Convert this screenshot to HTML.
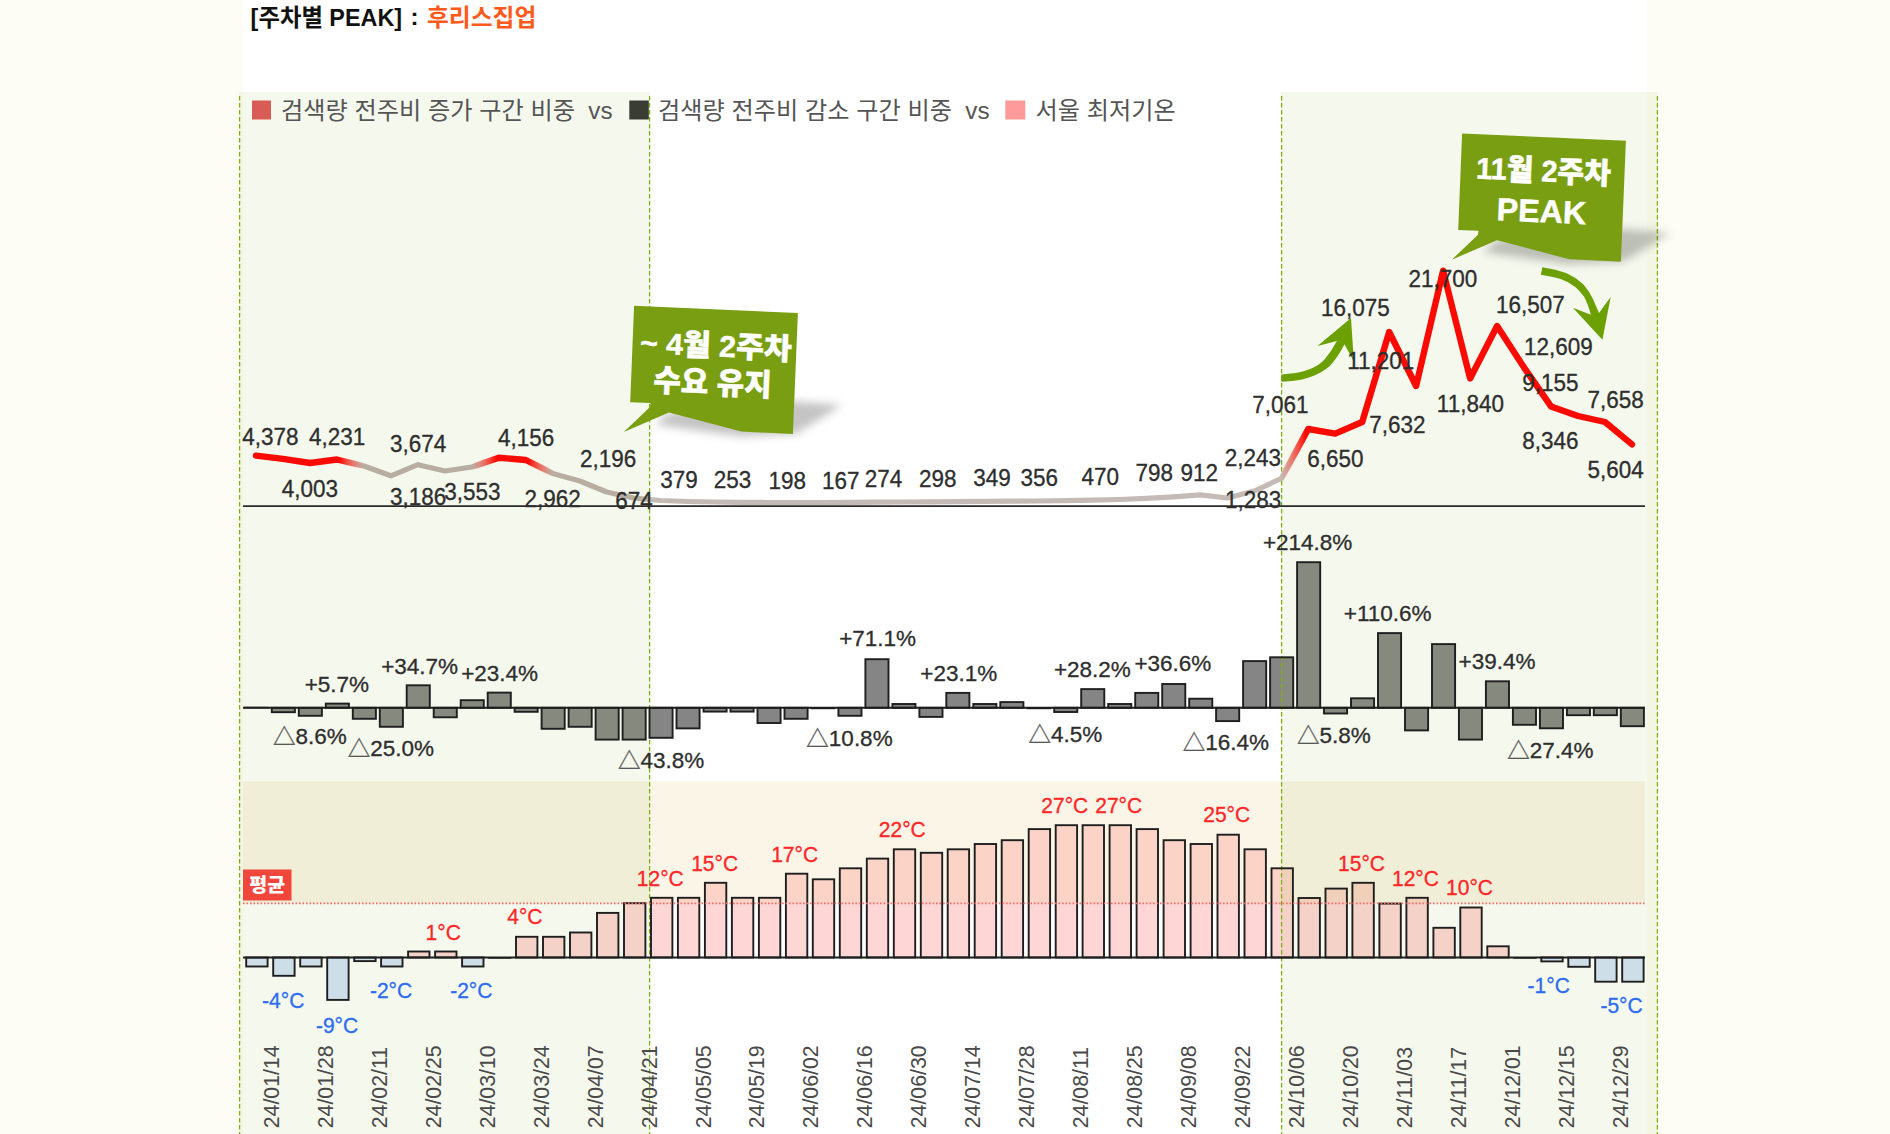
<!DOCTYPE html>
<html lang="ko"><head><meta charset="utf-8"><title>주차별 PEAK : 후리스집업</title>
<style>
html,body{margin:0;padding:0;background:#FEFDF5;}
#page{position:relative;width:1890px;height:1134px;overflow:hidden;background:#FEFDF5;}
</style></head><body><div id="page">
<svg width="1890" height="1134" viewBox="0 0 1890 1134" style="position:absolute;left:0;top:0">
<defs>
<linearGradient id="lgG" gradientUnits="userSpaceOnUse" x1="0" y1="0" x2="1890" y2="0"><stop offset="0.00000" stop-color="#B7AEA1" stop-opacity="0"/><stop offset="0.17970" stop-color="#B7AEA1" stop-opacity="0"/><stop offset="0.19255" stop-color="#B7AEA1" stop-opacity="1"/><stop offset="0.24965" stop-color="#B7AEA1" stop-opacity="1"/><stop offset="0.26250" stop-color="#B7AEA1" stop-opacity="0"/><stop offset="0.27963" stop-color="#B7AEA1" stop-opacity="0"/><stop offset="0.29248" stop-color="#B7AEA1" stop-opacity="1"/><stop offset="0.34365" stop-color="#B7AEA1" stop-opacity="1"/><stop offset="0.34418" stop-color="#C4BAB6" stop-opacity="1"/><stop offset="0.67790" stop-color="#C4BAB6" stop-opacity="1"/><stop offset="0.69075" stop-color="#B7AEA1" stop-opacity="0"/><stop offset="1.00000" stop-color="#B7AEA1" stop-opacity="0"/></linearGradient><linearGradient id="lgR" gradientUnits="userSpaceOnUse" x1="0" y1="0" x2="1890" y2="0"><stop offset="0.00000" stop-color="#FA0A00" stop-opacity="1"/><stop offset="0.17970" stop-color="#FA0A00" stop-opacity="1"/><stop offset="0.19255" stop-color="#FA0A00" stop-opacity="0"/><stop offset="0.24965" stop-color="#FA0A00" stop-opacity="0"/><stop offset="0.26250" stop-color="#FA0A00" stop-opacity="1"/><stop offset="0.27963" stop-color="#FA0A00" stop-opacity="1"/><stop offset="0.29248" stop-color="#FA0A00" stop-opacity="0"/><stop offset="0.34365" stop-color="#FA0A00" stop-opacity="0"/><stop offset="0.34418" stop-color="#FA0A00" stop-opacity="0"/><stop offset="0.67790" stop-color="#FA0A00" stop-opacity="0"/><stop offset="0.69075" stop-color="#FA0A00" stop-opacity="1"/><stop offset="1.00000" stop-color="#FA0A00" stop-opacity="1"/></linearGradient>
<filter id="blur6" x="-30%" y="-30%" width="160%" height="160%"><feGaussianBlur stdDeviation="4"/></filter>
</defs>
<rect x="243" y="0" width="1404" height="1134" fill="#ffffff"/>
<rect x="246.2" y="957.5" width="21.4" height="9.0" fill="#D4E3FA"/>
<rect x="273.2" y="957.5" width="21.4" height="18.3" fill="#D4E3FA"/>
<rect x="300.2" y="957.5" width="21.4" height="9.0" fill="#D4E3FA"/>
<rect x="327.2" y="957.5" width="21.4" height="42.4" fill="#D4E3FA"/>
<rect x="354.2" y="957.5" width="21.4" height="3.6" fill="#D4E3FA"/>
<rect x="381.1" y="957.5" width="21.4" height="9.0" fill="#D4E3FA"/>
<rect x="408.1" y="951.5" width="21.4" height="6.0" fill="#FFD6D6"/>
<rect x="435.1" y="951.5" width="21.4" height="6.0" fill="#FFD6D6"/>
<rect x="462.1" y="957.5" width="21.4" height="9.0" fill="#D4E3FA"/>
<rect x="516.0" y="936.8" width="21.4" height="20.7" fill="#FFD6D6"/>
<rect x="543.0" y="936.8" width="21.4" height="20.7" fill="#FFD6D6"/>
<rect x="570.0" y="932.5" width="21.4" height="25.0" fill="#FFD6D6"/>
<rect x="597.0" y="912.9" width="21.4" height="44.6" fill="#FFD6D6"/>
<rect x="624.0" y="903.2" width="21.4" height="54.3" fill="#FFD6D6"/>
<rect x="651.0" y="897.8" width="21.4" height="59.7" fill="#FFD6D6"/>
<rect x="677.9" y="897.8" width="21.4" height="59.7" fill="#FFD6D6"/>
<rect x="704.9" y="882.8" width="21.4" height="74.7" fill="#FFD6D6"/>
<rect x="731.9" y="897.8" width="21.4" height="59.7" fill="#FFD6D6"/>
<rect x="758.9" y="897.8" width="21.4" height="59.7" fill="#FFD6D6"/>
<rect x="785.9" y="873.7" width="21.4" height="83.8" fill="#FFD6D6"/>
<rect x="812.8" y="879.3" width="21.4" height="78.2" fill="#FFD6D6"/>
<rect x="839.8" y="868.3" width="21.4" height="89.2" fill="#FFD6D6"/>
<rect x="866.8" y="858.6" width="21.4" height="98.9" fill="#FFD6D6"/>
<rect x="893.8" y="849.3" width="21.4" height="108.2" fill="#FFD6D6"/>
<rect x="920.8" y="852.8" width="21.4" height="104.7" fill="#FFD6D6"/>
<rect x="947.7" y="849.3" width="21.4" height="108.2" fill="#FFD6D6"/>
<rect x="974.7" y="844.0" width="21.4" height="113.5" fill="#FFD6D6"/>
<rect x="1001.7" y="840.2" width="21.4" height="117.3" fill="#FFD6D6"/>
<rect x="1028.7" y="829.1" width="21.4" height="128.4" fill="#FFD6D6"/>
<rect x="1055.7" y="825.2" width="21.4" height="132.3" fill="#FFD6D6"/>
<rect x="1082.6" y="825.2" width="21.4" height="132.3" fill="#FFD6D6"/>
<rect x="1109.6" y="825.2" width="21.4" height="132.3" fill="#FFD6D6"/>
<rect x="1136.6" y="829.1" width="21.4" height="128.4" fill="#FFD6D6"/>
<rect x="1163.6" y="840.2" width="21.4" height="117.3" fill="#FFD6D6"/>
<rect x="1190.6" y="844.0" width="21.4" height="113.5" fill="#FFD6D6"/>
<rect x="1217.5" y="834.7" width="21.4" height="122.8" fill="#FFD6D6"/>
<rect x="1244.5" y="849.3" width="21.4" height="108.2" fill="#FFD6D6"/>
<rect x="1271.5" y="868.3" width="21.4" height="89.2" fill="#FFD6D6"/>
<rect x="1298.5" y="898.0" width="21.4" height="59.5" fill="#FFD6D6"/>
<rect x="1325.5" y="888.6" width="21.4" height="68.9" fill="#FFD6D6"/>
<rect x="1352.4" y="882.8" width="21.4" height="74.7" fill="#FFD6D6"/>
<rect x="1379.4" y="903.6" width="21.4" height="53.9" fill="#FFD6D6"/>
<rect x="1406.4" y="897.8" width="21.4" height="59.7" fill="#FFD6D6"/>
<rect x="1433.4" y="927.8" width="21.4" height="29.7" fill="#FFD6D6"/>
<rect x="1460.3" y="907.5" width="21.4" height="50.0" fill="#FFD6D6"/>
<rect x="1487.3" y="946.3" width="21.4" height="11.2" fill="#FFD6D6"/>
<rect x="1541.3" y="957.5" width="21.4" height="3.9" fill="#D4E3FA"/>
<rect x="1568.3" y="957.5" width="21.4" height="9.3" fill="#D4E3FA"/>
<rect x="1595.2" y="957.5" width="21.4" height="24.2" fill="#D4E3FA"/>
<rect x="1622.2" y="957.5" width="21.4" height="24.2" fill="#D4E3FA"/>
<rect x="271.8" y="707.8" width="23.1" height="4.4" fill="#858585"/>
<rect x="298.8" y="707.8" width="23.1" height="8.0" fill="#858585"/>
<rect x="325.8" y="703.6" width="23.1" height="4.2" fill="#858585"/>
<rect x="352.8" y="707.8" width="23.1" height="11.0" fill="#858585"/>
<rect x="379.8" y="707.8" width="23.1" height="19.0" fill="#858585"/>
<rect x="406.7" y="685.3" width="23.1" height="22.5" fill="#858585"/>
<rect x="433.7" y="707.8" width="23.1" height="9.5" fill="#858585"/>
<rect x="460.7" y="700.2" width="23.1" height="7.6" fill="#858585"/>
<rect x="487.7" y="692.6" width="23.1" height="15.2" fill="#858585"/>
<rect x="514.6" y="707.8" width="23.1" height="4.0" fill="#858585"/>
<rect x="541.6" y="707.8" width="23.1" height="21.0" fill="#858585"/>
<rect x="568.6" y="707.8" width="23.1" height="19.0" fill="#858585"/>
<rect x="595.6" y="707.8" width="23.1" height="31.8" fill="#858585"/>
<rect x="622.6" y="707.8" width="23.1" height="31.8" fill="#858585"/>
<rect x="649.5" y="707.8" width="23.1" height="30.0" fill="#858585"/>
<rect x="676.5" y="707.8" width="23.1" height="20.6" fill="#858585"/>
<rect x="703.5" y="707.8" width="23.1" height="3.8" fill="#858585"/>
<rect x="730.5" y="707.8" width="23.1" height="3.8" fill="#858585"/>
<rect x="757.5" y="707.8" width="23.1" height="15.2" fill="#858585"/>
<rect x="784.5" y="707.8" width="23.1" height="11.0" fill="#858585"/>
<rect x="838.4" y="707.8" width="23.1" height="8.0" fill="#858585"/>
<rect x="865.4" y="659.2" width="23.1" height="48.6" fill="#858585"/>
<rect x="892.4" y="704.0" width="23.1" height="3.8" fill="#858585"/>
<rect x="919.4" y="707.8" width="23.1" height="9.1" fill="#858585"/>
<rect x="946.3" y="692.9" width="23.1" height="14.9" fill="#858585"/>
<rect x="973.3" y="704.0" width="23.1" height="3.8" fill="#858585"/>
<rect x="1000.3" y="702.1" width="23.1" height="5.7" fill="#858585"/>
<rect x="1054.2" y="707.8" width="23.1" height="4.2" fill="#858585"/>
<rect x="1081.2" y="689.1" width="23.1" height="18.7" fill="#858585"/>
<rect x="1108.2" y="704.0" width="23.1" height="3.8" fill="#858585"/>
<rect x="1135.2" y="692.9" width="23.1" height="14.9" fill="#858585"/>
<rect x="1162.2" y="684.0" width="23.1" height="23.8" fill="#858585"/>
<rect x="1189.2" y="698.7" width="23.1" height="9.1" fill="#858585"/>
<rect x="1216.1" y="707.8" width="23.1" height="13.3" fill="#858585"/>
<rect x="1243.1" y="661.1" width="23.1" height="46.7" fill="#858585"/>
<rect x="1270.1" y="657.3" width="23.1" height="50.5" fill="#858585"/>
<rect x="1297.1" y="562.2" width="23.1" height="145.6" fill="#858585"/>
<rect x="1324.0" y="707.8" width="23.1" height="5.7" fill="#858585"/>
<rect x="1351.0" y="698.3" width="23.1" height="9.5" fill="#858585"/>
<rect x="1378.0" y="633.1" width="23.1" height="74.7" fill="#858585"/>
<rect x="1405.0" y="707.8" width="23.1" height="22.6" fill="#858585"/>
<rect x="1432.0" y="644.1" width="23.1" height="63.7" fill="#858585"/>
<rect x="1458.9" y="707.8" width="23.1" height="31.8" fill="#858585"/>
<rect x="1485.9" y="681.3" width="23.1" height="26.5" fill="#858585"/>
<rect x="1512.9" y="707.8" width="23.1" height="17.0" fill="#858585"/>
<rect x="1539.9" y="707.8" width="23.1" height="20.5" fill="#858585"/>
<rect x="1566.9" y="707.8" width="23.1" height="7.4" fill="#858585"/>
<rect x="1593.8" y="707.8" width="23.1" height="7.4" fill="#858585"/>
<rect x="1620.8" y="707.8" width="23.1" height="18.4" fill="#858585"/>
<rect x="243" y="781.4" width="1402" height="122" fill="rgb(235,205,140)" fill-opacity="0.2"/>
<rect x="239" y="92" width="411" height="1042" fill="rgb(146,180,60)" fill-opacity="0.09"/>
<rect x="1281" y="92" width="376.5" height="1042" fill="rgb(146,180,60)" fill-opacity="0.09"/>
<line x1="239.6" y1="96" x2="239.6" y2="1134" stroke="#7FAE10" stroke-width="1.3" stroke-dasharray="4.4 2.6"/>
<line x1="649.6" y1="96" x2="649.6" y2="1134" stroke="#7FAE10" stroke-width="1.3" stroke-dasharray="4.4 2.6"/>
<line x1="1281.6" y1="96" x2="1281.6" y2="1134" stroke="#7FAE10" stroke-width="1.3" stroke-dasharray="4.4 2.6"/>
<line x1="1657.4" y1="96" x2="1657.4" y2="1134" stroke="#7FAE10" stroke-width="1.3" stroke-dasharray="4.4 2.6"/>
<g fill="none" stroke="#1e1e1e" stroke-width="1.9">
<rect x="246.2" y="957.5" width="21.4" height="9.0"/>
<rect x="273.2" y="957.5" width="21.4" height="18.3"/>
<rect x="300.2" y="957.5" width="21.4" height="9.0"/>
<rect x="327.2" y="957.5" width="21.4" height="42.4"/>
<rect x="354.2" y="957.5" width="21.4" height="3.6"/>
<rect x="381.1" y="957.5" width="21.4" height="9.0"/>
<rect x="408.1" y="951.5" width="21.4" height="6.0"/>
<rect x="435.1" y="951.5" width="21.4" height="6.0"/>
<rect x="462.1" y="957.5" width="21.4" height="9.0"/>
<rect x="488.2" y="957.3" width="23.2" height="1.4" fill="#1c1c1c" stroke="none"/>
<rect x="516.0" y="936.8" width="21.4" height="20.7"/>
<rect x="543.0" y="936.8" width="21.4" height="20.7"/>
<rect x="570.0" y="932.5" width="21.4" height="25.0"/>
<rect x="597.0" y="912.9" width="21.4" height="44.6"/>
<rect x="624.0" y="903.2" width="21.4" height="54.3"/>
<rect x="651.0" y="897.8" width="21.4" height="59.7"/>
<rect x="677.9" y="897.8" width="21.4" height="59.7"/>
<rect x="704.9" y="882.8" width="21.4" height="74.7"/>
<rect x="731.9" y="897.8" width="21.4" height="59.7"/>
<rect x="758.9" y="897.8" width="21.4" height="59.7"/>
<rect x="785.9" y="873.7" width="21.4" height="83.8"/>
<rect x="812.8" y="879.3" width="21.4" height="78.2"/>
<rect x="839.8" y="868.3" width="21.4" height="89.2"/>
<rect x="866.8" y="858.6" width="21.4" height="98.9"/>
<rect x="893.8" y="849.3" width="21.4" height="108.2"/>
<rect x="920.8" y="852.8" width="21.4" height="104.7"/>
<rect x="947.7" y="849.3" width="21.4" height="108.2"/>
<rect x="974.7" y="844.0" width="21.4" height="113.5"/>
<rect x="1001.7" y="840.2" width="21.4" height="117.3"/>
<rect x="1028.7" y="829.1" width="21.4" height="128.4"/>
<rect x="1055.7" y="825.2" width="21.4" height="132.3"/>
<rect x="1082.6" y="825.2" width="21.4" height="132.3"/>
<rect x="1109.6" y="825.2" width="21.4" height="132.3"/>
<rect x="1136.6" y="829.1" width="21.4" height="128.4"/>
<rect x="1163.6" y="840.2" width="21.4" height="117.3"/>
<rect x="1190.6" y="844.0" width="21.4" height="113.5"/>
<rect x="1217.5" y="834.7" width="21.4" height="122.8"/>
<rect x="1244.5" y="849.3" width="21.4" height="108.2"/>
<rect x="1271.5" y="868.3" width="21.4" height="89.2"/>
<rect x="1298.5" y="898.0" width="21.4" height="59.5"/>
<rect x="1325.5" y="888.6" width="21.4" height="68.9"/>
<rect x="1352.4" y="882.8" width="21.4" height="74.7"/>
<rect x="1379.4" y="903.6" width="21.4" height="53.9"/>
<rect x="1406.4" y="897.8" width="21.4" height="59.7"/>
<rect x="1433.4" y="927.8" width="21.4" height="29.7"/>
<rect x="1460.3" y="907.5" width="21.4" height="50.0"/>
<rect x="1487.3" y="946.3" width="21.4" height="11.2"/>
<rect x="1513.4" y="957.3" width="23.2" height="1.4" fill="#1c1c1c" stroke="none"/>
<rect x="1541.3" y="957.5" width="21.4" height="3.9"/>
<rect x="1568.3" y="957.5" width="21.4" height="9.3"/>
<rect x="1595.2" y="957.5" width="21.4" height="24.2"/>
<rect x="1622.2" y="957.5" width="21.4" height="24.2"/>
<rect x="243.9" y="706.8" width="24.9" height="1.6" fill="#1c1c1c" stroke="none"/>
<rect x="271.8" y="707.8" width="23.1" height="4.4"/>
<rect x="298.8" y="707.8" width="23.1" height="8.0"/>
<rect x="325.8" y="703.6" width="23.1" height="4.2"/>
<rect x="352.8" y="707.8" width="23.1" height="11.0"/>
<rect x="379.8" y="707.8" width="23.1" height="19.0"/>
<rect x="406.7" y="685.3" width="23.1" height="22.5"/>
<rect x="433.7" y="707.8" width="23.1" height="9.5"/>
<rect x="460.7" y="700.2" width="23.1" height="7.6"/>
<rect x="487.7" y="692.6" width="23.1" height="15.2"/>
<rect x="514.6" y="707.8" width="23.1" height="4.0"/>
<rect x="541.6" y="707.8" width="23.1" height="21.0"/>
<rect x="568.6" y="707.8" width="23.1" height="19.0"/>
<rect x="595.6" y="707.8" width="23.1" height="31.8"/>
<rect x="622.6" y="707.8" width="23.1" height="31.8"/>
<rect x="649.5" y="707.8" width="23.1" height="30.0"/>
<rect x="676.5" y="707.8" width="23.1" height="20.6"/>
<rect x="703.5" y="707.8" width="23.1" height="3.8"/>
<rect x="730.5" y="707.8" width="23.1" height="3.8"/>
<rect x="757.5" y="707.8" width="23.1" height="15.2"/>
<rect x="784.5" y="707.8" width="23.1" height="11.0"/>
<rect x="810.5" y="707.6" width="24.9" height="1.6" fill="#1c1c1c" stroke="none"/>
<rect x="838.4" y="707.8" width="23.1" height="8.0"/>
<rect x="865.4" y="659.2" width="23.1" height="48.6"/>
<rect x="892.4" y="704.0" width="23.1" height="3.8"/>
<rect x="919.4" y="707.8" width="23.1" height="9.1"/>
<rect x="946.3" y="692.9" width="23.1" height="14.9"/>
<rect x="973.3" y="704.0" width="23.1" height="3.8"/>
<rect x="1000.3" y="702.1" width="23.1" height="5.7"/>
<rect x="1026.4" y="707.6" width="24.9" height="1.6" fill="#1c1c1c" stroke="none"/>
<rect x="1054.2" y="707.8" width="23.1" height="4.2"/>
<rect x="1081.2" y="689.1" width="23.1" height="18.7"/>
<rect x="1108.2" y="704.0" width="23.1" height="3.8"/>
<rect x="1135.2" y="692.9" width="23.1" height="14.9"/>
<rect x="1162.2" y="684.0" width="23.1" height="23.8"/>
<rect x="1189.2" y="698.7" width="23.1" height="9.1"/>
<rect x="1216.1" y="707.8" width="23.1" height="13.3"/>
<rect x="1243.1" y="661.1" width="23.1" height="46.7"/>
<rect x="1270.1" y="657.3" width="23.1" height="50.5"/>
<rect x="1297.1" y="562.2" width="23.1" height="145.6"/>
<rect x="1324.0" y="707.8" width="23.1" height="5.7"/>
<rect x="1351.0" y="698.3" width="23.1" height="9.5"/>
<rect x="1378.0" y="633.1" width="23.1" height="74.7"/>
<rect x="1405.0" y="707.8" width="23.1" height="22.6"/>
<rect x="1432.0" y="644.1" width="23.1" height="63.7"/>
<rect x="1458.9" y="707.8" width="23.1" height="31.8"/>
<rect x="1485.9" y="681.3" width="23.1" height="26.5"/>
<rect x="1512.9" y="707.8" width="23.1" height="17.0"/>
<rect x="1539.9" y="707.8" width="23.1" height="20.5"/>
<rect x="1566.9" y="707.8" width="23.1" height="7.4"/>
<rect x="1593.8" y="707.8" width="23.1" height="7.4"/>
<rect x="1620.8" y="707.8" width="23.1" height="18.4"/>
</g>
<line x1="243" y1="957.5" x2="1645" y2="957.5" stroke="#1e1e1e" stroke-width="1.9"/>
<line x1="243" y1="707.8" x2="1645" y2="707.8" stroke="#1e1e1e" stroke-width="1.9"/>
<line x1="243" y1="903.4" x2="1645" y2="903.4" stroke="#F26B6B" stroke-width="1.6" stroke-dasharray="1.6 1.9"/>
<rect x="243" y="869.5" width="48.5" height="31" fill="#F0463C"/>
<text x="267.2" y="892" font-family="'Liberation Sans','Noto Sans CJK KR','NanumGothic',sans-serif" font-size="19" font-weight="900" fill="#fff" text-anchor="middle" textLength="36" lengthAdjust="spacingAndGlyphs">평균</text>
<line x1="243" y1="506.2" x2="1645" y2="506.2" stroke="#2a2a2a" stroke-width="1.8"/>
<polyline fill="none" stroke="url(#lgG)" stroke-width="5.2" stroke-linejoin="round" stroke-linecap="round" points="256.0,455.6 283.0,458.9 310.0,463.0 336.9,459.5 363.9,466.0 390.9,475.8 417.9,464.7 444.9,471.0 471.8,467.0 498.8,457.7 525.8,460.0 552.8,473.4 579.8,481.0 606.7,492.0 633.7,498.0 660.7,500.5 687.7,501.5 714.7,502.0 741.6,502.3 768.6,502.5 795.6,502.5 822.6,502.5 849.6,502.3 876.5,502.2 903.5,502.0 930.5,501.8 957.5,501.6 984.5,501.4 1011.4,501.2 1038.4,501.0 1065.4,500.6 1092.4,500.2 1119.4,499.5 1146.3,498.3 1173.3,496.8 1200.3,494.8 1227.3,498.0 1254.3,491.0 1281.2,478.5 1308.2,429.0 1335.2,433.6 1362.2,422.0 1389.2,332.0 1416.1,386.0 1443.1,270.7 1470.1,378.5 1497.1,326.0 1524.1,367.6 1551.0,406.4 1578.0,416.0 1605.0,422.0 1632.0,444.4"/>
<polyline fill="none" stroke="url(#lgR)" stroke-width="6.4" stroke-linejoin="round" stroke-linecap="round" points="256.0,455.6 283.0,458.9 310.0,463.0 336.9,459.5 363.9,466.0 390.9,475.8 417.9,464.7 444.9,471.0 471.8,467.0 498.8,457.7 525.8,460.0 552.8,473.4 579.8,481.0 606.7,492.0 633.7,498.0 660.7,500.5 687.7,501.5 714.7,502.0 741.6,502.3 768.6,502.5 795.6,502.5 822.6,502.5 849.6,502.3 876.5,502.2 903.5,502.0 930.5,501.8 957.5,501.6 984.5,501.4 1011.4,501.2 1038.4,501.0 1065.4,500.6 1092.4,500.2 1119.4,499.5 1146.3,498.3 1173.3,496.8 1200.3,494.8 1227.3,498.0 1254.3,491.0 1281.2,478.5 1308.2,429.0 1335.2,433.6 1362.2,422.0 1389.2,332.0 1416.1,386.0 1443.1,270.7 1470.1,378.5 1497.1,326.0 1524.1,367.6 1551.0,406.4 1578.0,416.0 1605.0,422.0 1632.0,444.4"/>
<path fill="#6BA000" d="M1281.4,374.4 Q1312,373 1324.3,359.8 Q1331,352 1336.9,340.9 L1317.5,346.1 L1351,318.1 L1353.9,361.8 L1344.5,344.3 Q1338,357 1330.1,365.7 Q1313,381 1281.4,381.7 Z"/>
<path fill="#6BA000" d="M1542.3,267.3 Q1556,269.5 1566.6,273.3 Q1576,277.5 1583,283.9 Q1589,290.5 1592.7,298.5 L1599,313 L1610.7,297 L1602.4,339.7 L1572.9,307.7 L1590.8,314.8 Q1588,304 1584,296.6 Q1580,291 1575.3,286.9 Q1569,282 1560.7,279.1 Q1552,276.5 1540.9,274.7 Z"/>
<g font-family="'Liberation Sans','Noto Sans CJK KR',sans-serif">
<text transform="translate(270.5,444.6) scale(1,1.05)" text-anchor="middle" font-size="22.5" fill="#2e2e2e" stroke="#2e2e2e" stroke-width="0.3">4,378</text>
<text transform="translate(337.2,444.6) scale(1,1.05)" text-anchor="middle" font-size="22.5" fill="#2e2e2e" stroke="#2e2e2e" stroke-width="0.3">4,231</text>
<text transform="translate(418.1,451.5) scale(1,1.05)" text-anchor="middle" font-size="22.5" fill="#2e2e2e" stroke="#2e2e2e" stroke-width="0.3">3,674</text>
<text transform="translate(309.9,496.9) scale(1,1.05)" text-anchor="middle" font-size="22.5" fill="#2e2e2e" stroke="#2e2e2e" stroke-width="0.3">4,003</text>
<text transform="translate(418.1,505.1) scale(1,1.05)" text-anchor="middle" font-size="22.5" fill="#2e2e2e" stroke="#2e2e2e" stroke-width="0.3">3,186</text>
<text transform="translate(472.4,500.4) scale(1,1.05)" text-anchor="middle" font-size="22.5" fill="#2e2e2e" stroke="#2e2e2e" stroke-width="0.3">3,553</text>
<text transform="translate(526.1,445.7) scale(1,1.05)" text-anchor="middle" font-size="22.5" fill="#2e2e2e" stroke="#2e2e2e" stroke-width="0.3">4,156</text>
<text transform="translate(552.6,507.4) scale(1,1.05)" text-anchor="middle" font-size="22.5" fill="#2e2e2e" stroke="#2e2e2e" stroke-width="0.3">2,962</text>
<text transform="translate(608.2,466.7) scale(1,1.05)" text-anchor="middle" font-size="22.5" fill="#2e2e2e" stroke="#2e2e2e" stroke-width="0.3">2,196</text>
<text transform="translate(634.1,509.2) scale(1,1.05)" text-anchor="middle" font-size="22.5" fill="#2e2e2e" stroke="#2e2e2e" stroke-width="0.3">674</text>
<text transform="translate(678.9,487.5) scale(1,1.05)" text-anchor="middle" font-size="22.5" fill="#2e2e2e" stroke="#2e2e2e" stroke-width="0.3">379</text>
<text transform="translate(732.6,487.5) scale(1,1.05)" text-anchor="middle" font-size="22.5" fill="#2e2e2e" stroke="#2e2e2e" stroke-width="0.3">253</text>
<text transform="translate(787.2,489.2) scale(1,1.05)" text-anchor="middle" font-size="22.5" fill="#2e2e2e" stroke="#2e2e2e" stroke-width="0.3">198</text>
<text transform="translate(840.8,489.2) scale(1,1.05)" text-anchor="middle" font-size="22.5" fill="#2e2e2e" stroke="#2e2e2e" stroke-width="0.3">167</text>
<text transform="translate(883.6,486.6) scale(1,1.05)" text-anchor="middle" font-size="22.5" fill="#2e2e2e" stroke="#2e2e2e" stroke-width="0.3">274</text>
<text transform="translate(937.7,486.9) scale(1,1.05)" text-anchor="middle" font-size="22.5" fill="#2e2e2e" stroke="#2e2e2e" stroke-width="0.3">298</text>
<text transform="translate(992.1,486.4) scale(1,1.05)" text-anchor="middle" font-size="22.5" fill="#2e2e2e" stroke="#2e2e2e" stroke-width="0.3">349</text>
<text transform="translate(1039.2,486.4) scale(1,1.05)" text-anchor="middle" font-size="22.5" fill="#2e2e2e" stroke="#2e2e2e" stroke-width="0.3">356</text>
<text transform="translate(1100.2,485.4) scale(1,1.05)" text-anchor="middle" font-size="22.5" fill="#2e2e2e" stroke="#2e2e2e" stroke-width="0.3">470</text>
<text transform="translate(1154.2,480.8) scale(1,1.05)" text-anchor="middle" font-size="22.5" fill="#2e2e2e" stroke="#2e2e2e" stroke-width="0.3">798</text>
<text transform="translate(1199.3,481.2) scale(1,1.05)" text-anchor="middle" font-size="22.5" fill="#2e2e2e" stroke="#2e2e2e" stroke-width="0.3">912</text>
<text transform="translate(1252.8,466.0) scale(1,1.05)" text-anchor="middle" font-size="22.5" fill="#2e2e2e" stroke="#2e2e2e" stroke-width="0.3">2,243</text>
<text transform="translate(1253.2,507.7) scale(1,1.05)" text-anchor="middle" font-size="22.5" fill="#2e2e2e" stroke="#2e2e2e" stroke-width="0.3">1,283</text>
<text transform="translate(1280.5,413.1) scale(1,1.05)" text-anchor="middle" font-size="22.5" fill="#2e2e2e" stroke="#2e2e2e" stroke-width="0.3">7,061</text>
<text transform="translate(1335.4,467.4) scale(1,1.05)" text-anchor="middle" font-size="22.5" fill="#2e2e2e" stroke="#2e2e2e" stroke-width="0.3">6,650</text>
<text transform="translate(1355.5,316.1) scale(1,1.05)" text-anchor="middle" font-size="22.5" fill="#2e2e2e" stroke="#2e2e2e" stroke-width="0.3">16,075</text>
<text transform="translate(1380.8,369.2) scale(1,1.05)" text-anchor="middle" font-size="22.5" fill="#2e2e2e" stroke="#2e2e2e" stroke-width="0.3">11,201</text>
<text transform="translate(1397.4,432.5) scale(1,1.05)" text-anchor="middle" font-size="22.5" fill="#2e2e2e" stroke="#2e2e2e" stroke-width="0.3">7,632</text>
<text transform="translate(1442.8,287.0) scale(1,1.05)" text-anchor="middle" font-size="22.5" fill="#2e2e2e" stroke="#2e2e2e" stroke-width="0.3">21,700</text>
<text transform="translate(1470.4,411.9) scale(1,1.05)" text-anchor="middle" font-size="22.5" fill="#2e2e2e" stroke="#2e2e2e" stroke-width="0.3">11,840</text>
<text transform="translate(1530.5,313.4) scale(1,1.05)" text-anchor="middle" font-size="22.5" fill="#2e2e2e" stroke="#2e2e2e" stroke-width="0.3">16,507</text>
<text transform="translate(1558.4,354.9) scale(1,1.05)" text-anchor="middle" font-size="22.5" fill="#2e2e2e" stroke="#2e2e2e" stroke-width="0.3">12,609</text>
<text transform="translate(1550.5,390.9) scale(1,1.05)" text-anchor="middle" font-size="22.5" fill="#2e2e2e" stroke="#2e2e2e" stroke-width="0.3">9,155</text>
<text transform="translate(1550.5,449.1) scale(1,1.05)" text-anchor="middle" font-size="22.5" fill="#2e2e2e" stroke="#2e2e2e" stroke-width="0.3">8,346</text>
<text transform="translate(1615.6,408.4) scale(1,1.05)" text-anchor="middle" font-size="22.5" fill="#2e2e2e" stroke="#2e2e2e" stroke-width="0.3">7,658</text>
<text transform="translate(1615.6,478.2) scale(1,1.05)" text-anchor="middle" font-size="22.5" fill="#2e2e2e" stroke="#2e2e2e" stroke-width="0.3">5,604</text>
<text transform="translate(336.9,691.9) scale(1,0.96)" text-anchor="middle" font-size="22.5" fill="#2e2e2e" stroke="#2e2e2e" stroke-width="0.3">+5.7%</text>
<text transform="translate(419.6,673.8) scale(1,0.96)" text-anchor="middle" font-size="22.5" fill="#2e2e2e" stroke="#2e2e2e" stroke-width="0.3">+34.7%</text>
<text transform="translate(499.6,680.5) scale(1,0.96)" text-anchor="middle" font-size="22.5" fill="#2e2e2e" stroke="#2e2e2e" stroke-width="0.3">+23.4%</text>
<text transform="translate(309.8,744.3) scale(1,0.96)" text-anchor="middle" font-size="22.5" fill="#2e2e2e" stroke="#2e2e2e" stroke-width="0.3"><tspan fill="#777">△</tspan>8.6%</text>
<text transform="translate(390.8,755.7) scale(1,0.96)" text-anchor="middle" font-size="22.5" fill="#2e2e2e" stroke="#2e2e2e" stroke-width="0.3"><tspan fill="#777">△</tspan>25.0%</text>
<text transform="translate(661.2,767.7) scale(1,0.96)" text-anchor="middle" font-size="22.5" fill="#2e2e2e" stroke="#2e2e2e" stroke-width="0.3"><tspan fill="#777">△</tspan>43.8%</text>
<text transform="translate(849.5,745.6) scale(1,0.96)" text-anchor="middle" font-size="22.5" fill="#2e2e2e" stroke="#2e2e2e" stroke-width="0.3"><tspan fill="#777">△</tspan>10.8%</text>
<text transform="translate(877.6,646.2) scale(1,0.96)" text-anchor="middle" font-size="22.5" fill="#2e2e2e" stroke="#2e2e2e" stroke-width="0.3">+71.1%</text>
<text transform="translate(958.8,680.5) scale(1,0.96)" text-anchor="middle" font-size="22.5" fill="#2e2e2e" stroke="#2e2e2e" stroke-width="0.3">+23.1%</text>
<text transform="translate(1092.4,676.7) scale(1,0.96)" text-anchor="middle" font-size="22.5" fill="#2e2e2e" stroke="#2e2e2e" stroke-width="0.3">+28.2%</text>
<text transform="translate(1172.9,671.0) scale(1,0.96)" text-anchor="middle" font-size="22.5" fill="#2e2e2e" stroke="#2e2e2e" stroke-width="0.3">+36.6%</text>
<text transform="translate(1065.3,742.4) scale(1,0.96)" text-anchor="middle" font-size="22.5" fill="#2e2e2e" stroke="#2e2e2e" stroke-width="0.3"><tspan fill="#777">△</tspan>4.5%</text>
<text transform="translate(1225.9,750.0) scale(1,0.96)" text-anchor="middle" font-size="22.5" fill="#2e2e2e" stroke="#2e2e2e" stroke-width="0.3"><tspan fill="#777">△</tspan>16.4%</text>
<text transform="translate(1307.6,550.2) scale(1,0.96)" text-anchor="middle" font-size="22.5" fill="#2e2e2e" stroke="#2e2e2e" stroke-width="0.3">+214.8%</text>
<text transform="translate(1387.7,620.9) scale(1,0.96)" text-anchor="middle" font-size="22.5" fill="#2e2e2e" stroke="#2e2e2e" stroke-width="0.3">+110.6%</text>
<text transform="translate(1497.0,669.2) scale(1,0.96)" text-anchor="middle" font-size="22.5" fill="#2e2e2e" stroke="#2e2e2e" stroke-width="0.3">+39.4%</text>
<text transform="translate(1334.0,742.7) scale(1,0.96)" text-anchor="middle" font-size="22.5" fill="#2e2e2e" stroke="#2e2e2e" stroke-width="0.3"><tspan fill="#777">△</tspan>5.8%</text>
<text transform="translate(1550.4,757.5) scale(1,0.96)" text-anchor="middle" font-size="22.5" fill="#2e2e2e" stroke="#2e2e2e" stroke-width="0.3"><tspan fill="#777">△</tspan>27.4%</text>
<text transform="translate(283.2,1008.1) scale(1,1.05)" text-anchor="middle" font-size="21" fill="#2C6CF0" stroke="#2C6CF0" stroke-width="0.3">-4°C</text>
<text transform="translate(337.0,1033.1) scale(1,1.05)" text-anchor="middle" font-size="21" fill="#2C6CF0" stroke="#2C6CF0" stroke-width="0.3">-9°C</text>
<text transform="translate(391.0,997.9) scale(1,1.05)" text-anchor="middle" font-size="21" fill="#2C6CF0" stroke="#2C6CF0" stroke-width="0.3">-2°C</text>
<text transform="translate(471.3,997.9) scale(1,1.05)" text-anchor="middle" font-size="21" fill="#2C6CF0" stroke="#2C6CF0" stroke-width="0.3">-2°C</text>
<text transform="translate(443.2,939.5) scale(1,1.05)" text-anchor="middle" font-size="21" fill="#FF2626" stroke="#FF2626" stroke-width="0.3">1°C</text>
<text transform="translate(524.9,924.3) scale(1,1.05)" text-anchor="middle" font-size="21" fill="#FF2626" stroke="#FF2626" stroke-width="0.3">4°C</text>
<text transform="translate(660.3,885.7) scale(1,1.05)" text-anchor="middle" font-size="21" fill="#FF2626" stroke="#FF2626" stroke-width="0.3">12°C</text>
<text transform="translate(714.6,870.8) scale(1,1.05)" text-anchor="middle" font-size="21" fill="#FF2626" stroke="#FF2626" stroke-width="0.3">15°C</text>
<text transform="translate(794.6,861.5) scale(1,1.05)" text-anchor="middle" font-size="21" fill="#FF2626" stroke="#FF2626" stroke-width="0.3">17°C</text>
<text transform="translate(902.3,837.2) scale(1,1.05)" text-anchor="middle" font-size="21" fill="#FF2626" stroke="#FF2626" stroke-width="0.3">22°C</text>
<text transform="translate(1064.8,813.4) scale(1,1.05)" text-anchor="middle" font-size="21" fill="#FF2626" stroke="#FF2626" stroke-width="0.3">27°C</text>
<text transform="translate(1118.7,813.4) scale(1,1.05)" text-anchor="middle" font-size="21" fill="#FF2626" stroke="#FF2626" stroke-width="0.3">27°C</text>
<text transform="translate(1226.7,822.3) scale(1,1.05)" text-anchor="middle" font-size="21" fill="#FF2626" stroke="#FF2626" stroke-width="0.3">25°C</text>
<text transform="translate(1361.5,870.8) scale(1,1.05)" text-anchor="middle" font-size="21" fill="#FF2626" stroke="#FF2626" stroke-width="0.3">15°C</text>
<text transform="translate(1415.4,886.1) scale(1,1.05)" text-anchor="middle" font-size="21" fill="#FF2626" stroke="#FF2626" stroke-width="0.3">12°C</text>
<text transform="translate(1469.5,895.4) scale(1,1.05)" text-anchor="middle" font-size="21" fill="#FF2626" stroke="#FF2626" stroke-width="0.3">10°C</text>
<text transform="translate(1548.7,993.3) scale(1,1.05)" text-anchor="middle" font-size="21" fill="#2C6CF0" stroke="#2C6CF0" stroke-width="0.3">-1°C</text>
<text transform="translate(1621.5,1012.7) scale(1,1.05)" text-anchor="middle" font-size="21" fill="#2C6CF0" stroke="#2C6CF0" stroke-width="0.3">-5°C</text>
<text transform="translate(278.8,1128.3) rotate(-90)" font-size="21.3" fill="#4a4a4a">24/01/14</text>
<text transform="translate(332.8,1128.3) rotate(-90)" font-size="21.3" fill="#4a4a4a">24/01/28</text>
<text transform="translate(386.7,1128.3) rotate(-90)" font-size="21.3" fill="#4a4a4a">24/02/11</text>
<text transform="translate(440.7,1128.3) rotate(-90)" font-size="21.3" fill="#4a4a4a">24/02/25</text>
<text transform="translate(494.6,1128.3) rotate(-90)" font-size="21.3" fill="#4a4a4a">24/03/10</text>
<text transform="translate(548.6,1128.3) rotate(-90)" font-size="21.3" fill="#4a4a4a">24/03/24</text>
<text transform="translate(602.6,1128.3) rotate(-90)" font-size="21.3" fill="#4a4a4a">24/04/07</text>
<text transform="translate(656.5,1128.3) rotate(-90)" font-size="21.3" fill="#4a4a4a">24/04/21</text>
<text transform="translate(710.5,1128.3) rotate(-90)" font-size="21.3" fill="#4a4a4a">24/05/05</text>
<text transform="translate(764.4,1128.3) rotate(-90)" font-size="21.3" fill="#4a4a4a">24/05/19</text>
<text transform="translate(818.4,1128.3) rotate(-90)" font-size="21.3" fill="#4a4a4a">24/06/02</text>
<text transform="translate(872.4,1128.3) rotate(-90)" font-size="21.3" fill="#4a4a4a">24/06/16</text>
<text transform="translate(926.3,1128.3) rotate(-90)" font-size="21.3" fill="#4a4a4a">24/06/30</text>
<text transform="translate(980.3,1128.3) rotate(-90)" font-size="21.3" fill="#4a4a4a">24/07/14</text>
<text transform="translate(1034.2,1128.3) rotate(-90)" font-size="21.3" fill="#4a4a4a">24/07/28</text>
<text transform="translate(1088.2,1128.3) rotate(-90)" font-size="21.3" fill="#4a4a4a">24/08/11</text>
<text transform="translate(1142.2,1128.3) rotate(-90)" font-size="21.3" fill="#4a4a4a">24/08/25</text>
<text transform="translate(1196.1,1128.3) rotate(-90)" font-size="21.3" fill="#4a4a4a">24/09/08</text>
<text transform="translate(1250.1,1128.3) rotate(-90)" font-size="21.3" fill="#4a4a4a">24/09/22</text>
<text transform="translate(1304.0,1128.3) rotate(-90)" font-size="21.3" fill="#4a4a4a">24/10/06</text>
<text transform="translate(1358.0,1128.3) rotate(-90)" font-size="21.3" fill="#4a4a4a">24/10/20</text>
<text transform="translate(1412.0,1128.3) rotate(-90)" font-size="21.3" fill="#4a4a4a">24/11/03</text>
<text transform="translate(1465.9,1128.3) rotate(-90)" font-size="21.3" fill="#4a4a4a">24/11/17</text>
<text transform="translate(1519.9,1128.3) rotate(-90)" font-size="21.3" fill="#4a4a4a">24/12/01</text>
<text transform="translate(1573.8,1128.3) rotate(-90)" font-size="21.3" fill="#4a4a4a">24/12/15</text>
<text transform="translate(1627.8,1128.3) rotate(-90)" font-size="21.3" fill="#4a4a4a">24/12/29</text>
</g>
<g font-family="'Liberation Sans','Noto Sans CJK KR',sans-serif" font-size="24.2" fill="#555">
<rect x="252" y="100.5" width="19" height="19" fill="#D95B55"/>
<text x="281" y="119">검색량 전주비 증가 구간 비중&#160;&#160;vs</text>
<rect x="629.3" y="100.5" width="19.5" height="19" fill="#3A3D33"/>
<text x="658" y="119">검색량 전주비 감소 구간 비중&#160;&#160;vs</text>
<rect x="1005.3" y="100.5" width="20" height="19" fill="#FF9A9A"/>
<text x="1035.5" y="119">서울 최저기온</text>
</g>
<g font-family="'Liberation Sans','Noto Sans CJK KR',sans-serif" font-size="24" font-weight="bold" fill="#111"><text x="250.6" y="26" textLength="151.5" lengthAdjust="spacingAndGlyphs">[주차별 PEAK]</text><text x="410.5" y="25">:</text><text x="427" y="26" fill="#FF5A1A" textLength="109.3" lengthAdjust="spacingAndGlyphs">후리스집업</text></g>
<polygon points="790.0,401.0 842.0,405.0 822.0,418.0 795.0,434.0 739.7,436.5 655.0,424.5 669.0,412.5" fill="#000" fill-opacity="0.23" filter="url(#blur6)"/>
<polygon points="634.1,305.7 797.9,313.0 792.9,434.0 741.3,431.6 669.0,412.5 623.8,432.0 650.0,407.0 650.5,403.0 630.2,402.2" fill="#7A9E12"/>
<text transform="translate(715.5,356.4) rotate(2.5)" text-anchor="middle" font-family="'Liberation Sans','Noto Sans CJK KR','NanumGothic',sans-serif" font-weight="900" font-size="30" textLength="151.6" lengthAdjust="spacingAndGlyphs" fill="#fff" stroke="#fff" stroke-width="0.5">~ 4월 2주차</text>
<text transform="translate(712.2,393.6) rotate(2.5)" text-anchor="middle" font-family="'Liberation Sans','Noto Sans CJK KR','NanumGothic',sans-serif" font-weight="900" font-size="31" textLength="118.4" lengthAdjust="spacingAndGlyphs" fill="#fff" stroke="#fff" stroke-width="0.5">수요 유지</text>
<polygon points="1618.0,228.7 1670.0,232.7 1650.0,245.7 1623.0,261.7 1567.7,264.2 1483.0,252.2 1497.0,240.2" fill="#000" fill-opacity="0.23" filter="url(#blur6)"/>
<polygon points="1462.1,133.4 1625.9,140.7 1620.9,261.7 1569.3,259.3 1497.0,240.2 1451.8,259.7 1478.0,234.7 1478.5,230.7 1458.2,229.9" fill="#7A9E12"/>
<text transform="translate(1543.0,181.4) rotate(2.5)" text-anchor="middle" font-family="'Liberation Sans','Noto Sans CJK KR','NanumGothic',sans-serif" font-weight="900" font-size="30" textLength="134.9" lengthAdjust="spacingAndGlyphs" fill="#fff" stroke="#fff" stroke-width="0.5">11월 2주차</text>
<text transform="translate(1541.0,222.2) rotate(2.5)" text-anchor="middle" font-family="'Liberation Sans','Noto Sans CJK KR','NanumGothic',sans-serif" font-weight="900" font-size="32" textLength="89.7" lengthAdjust="spacingAndGlyphs" fill="#fff" stroke="#fff" stroke-width="0.5">PEAK</text>
</svg>
</div></body></html>
